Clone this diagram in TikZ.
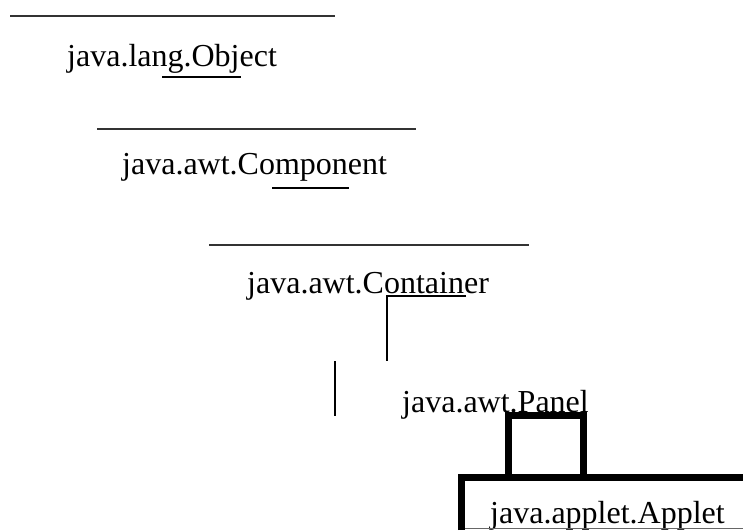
\documentclass[tikz,border=0pt]{standalone}
\usepackage{fontspec}
\setmainfont{Liberation Serif}
\begin{document}
\begin{tikzpicture}[x=1pt,y=-1pt,
  cls/.style={inner sep=0pt,anchor=base west,font=\fontsize{32}{38}\selectfont},
  rule/.style={line width=2pt,draw=black!80},
  uline/.style={line width=1.4pt},
  heavy/.style={line width=7pt}]
\useasboundingbox (0,0) rectangle (743,530);

% class names
\node[cls] (obj)  at (67,66)   {java.lang.Object};
\node[cls] (comp) at (122,174) {java.awt.Component};
\node[cls] (cont) at (247,293) {java.awt.Container};
\node[cls] (pan)  at (402,412) {java.awt.Panel};
\node[cls] (app)  at (490,523) {java.applet.Applet};

% rules above the upper classes
\draw[rule] (10,16) -- (335,16);
\draw[rule] (97,129) -- (416,129);
\draw[rule] (209,245) -- (529,245);

% underlines inside the names
\draw[uline] (162,77) -- (241,77);
\draw[uline] (272,188) -- (349,188);
\draw[line width=2pt] (466,295.5) -- (386.5,295.5) -- (386.5,361);
\draw[line width=1.4pt] (335,361) -- (335,416);

% heavy frames around Applet
\draw[heavy] (508.5,477.5) -- (508.5,415) -- (583.5,415) -- (583.5,477.5);
\draw[heavy] (461,530) -- (461,477.5) -- (743,477.5);
\draw[line width=1pt,draw=black!60] (465,528.5) -- (743,528.5);
\end{tikzpicture}
\end{document}
